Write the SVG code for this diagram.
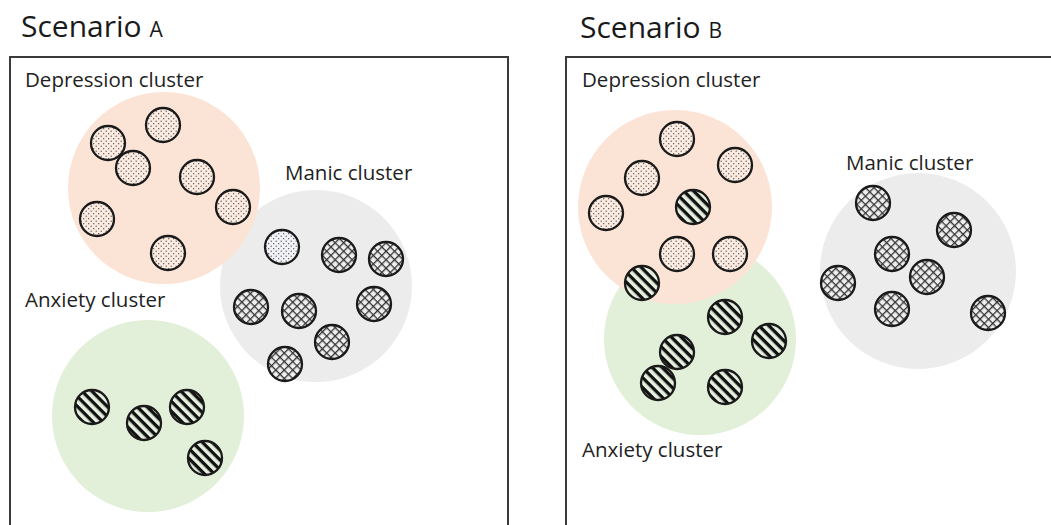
<svg xmlns="http://www.w3.org/2000/svg" width="1051" height="525" viewBox="0 0 1051 525">
<style>
.frame{fill:none;stroke:#3a3a3a;stroke-width:2}
.title{font-family:"Open Sans","Liberation Sans",sans-serif;font-size:30px;fill:#1a1a1a}
.tsub{font-size:21px}
.lbl{font-family:"Open Sans","Liberation Sans",sans-serif;font-size:20.5px;fill:#222}
.dep{fill:#fbe3d5}
.man{fill:#ececec}
.anx{fill:#e2efd9}
.s{stroke:#1a1a1a;stroke-width:2.3}
.dot{fill:url(#dots)}
.dotb{fill:url(#dotsBlue)}
.hatch{fill:url(#hatch)}
.stripe{fill:url(#stripes)}
</style>
<defs>
<pattern id="dots" patternUnits="userSpaceOnUse" width="5" height="5">
<rect width="5" height="5" fill="#fcebe0"/>
<circle cx="1.2" cy="1.2" r="0.65" fill="#444"/>
<circle cx="3.7" cy="3.7" r="0.65" fill="#444"/>
</pattern>
<pattern id="dotsBlue" patternUnits="userSpaceOnUse" width="5" height="5">
<rect width="5" height="5" fill="#f1f3f7"/>
<circle cx="1.2" cy="1.2" r="0.65" fill="#444"/>
<circle cx="3.7" cy="3.7" r="0.65" fill="#444"/>
</pattern>
<pattern id="hatch" patternUnits="userSpaceOnUse" width="6" height="6" patternTransform="rotate(45)">
<rect width="6" height="6" fill="#efefef"/>
<rect x="0" y="0" width="6" height="1.3" fill="#333"/>
<rect x="0" y="0" width="1.3" height="6" fill="#333"/>
</pattern>
<pattern id="stripes" patternUnits="userSpaceOnUse" width="7" height="7" patternTransform="rotate(45)">
<rect width="7" height="7" fill="#e6f0de"/>
<rect x="0" y="0" width="7" height="3.3" fill="#111"/>
</pattern>
</defs>
<rect width="1051" height="525" fill="#ffffff"/>

<g id="scenarioA">
<text class="title" x="21" y="37">Scenario <tspan class="tsub">A</tspan></text>
<rect class="frame" x="10" y="57" width="498" height="470"/>
</g>
<g id="scenarioB">
<text class="title" x="580" y="38">Scenario <tspan class="tsub">B</tspan></text>
<rect class="frame" x="566" y="57" width="490" height="470"/>
</g>

<!-- Scenario A clusters -->
<g id="A-manic-cluster">
<circle class="man" cx="316" cy="286" r="96"/>
<text class="lbl" x="285" y="180">Manic cluster</text>
</g>
<g id="A-depression-cluster">
<circle class="dep" cx="164" cy="188" r="96"/>
<text class="lbl" x="25" y="87">Depression cluster</text>
</g>
<g id="A-anxiety-cluster">
<circle class="anx" cx="148" cy="416" r="96"/>
<text class="lbl" x="25" y="307">Anxiety cluster</text>
</g>

<!-- Scenario B clusters -->
<g id="B-manic-cluster">
<circle class="man" cx="918" cy="271" r="98"/>
<text class="lbl" x="846" y="170">Manic cluster</text>
</g>
<g id="B-anxiety-cluster">
<circle class="anx" cx="700" cy="339" r="96"/>
<text class="lbl" x="582" y="457">Anxiety cluster</text>
</g>
<g id="B-depression-cluster">
<circle class="dep" cx="675" cy="207" r="97"/>
<text class="lbl" x="582" y="87">Depression cluster</text>
</g>

<!-- Scenario A symptoms -->
<g id="A-dep-symptoms">
<circle class="s dot" cx="163" cy="125" r="17"/>
<circle class="s dot" cx="108" cy="143" r="17"/>
<circle class="s dot" cx="133" cy="168" r="17"/>
<circle class="s dot" cx="197" cy="177" r="17"/>
<circle class="s dot" cx="233" cy="207" r="17"/>
<circle class="s dot" cx="97" cy="219" r="17"/>
<circle class="s dot" cx="168" cy="253" r="17"/>
</g>
<g id="A-manic-symptoms">
<circle class="s dotb" cx="282" cy="247" r="17"/>
<circle class="s hatch" cx="339" cy="255" r="17"/>
<circle class="s hatch" cx="386" cy="259" r="17"/>
<circle class="s hatch" cx="251" cy="307" r="17"/>
<circle class="s hatch" cx="299" cy="311" r="17"/>
<circle class="s hatch" cx="374" cy="304" r="17"/>
<circle class="s hatch" cx="332" cy="342" r="17"/>
<circle class="s hatch" cx="285" cy="364" r="17"/>
</g>
<g id="A-anx-symptoms">
<circle class="s stripe" cx="92" cy="407" r="17"/>
<circle class="s stripe" cx="144" cy="423" r="17"/>
<circle class="s stripe" cx="187" cy="407" r="17"/>
<circle class="s stripe" cx="205" cy="458" r="17"/>
</g>

<!-- Scenario B symptoms -->
<g id="B-dep-symptoms">
<circle class="s dot" cx="677" cy="139" r="17"/>
<circle class="s dot" cx="735" cy="165" r="17"/>
<circle class="s dot" cx="642" cy="178" r="17"/>
<circle class="s dot" cx="606" cy="213" r="17"/>
<circle class="s stripe" cx="693" cy="207" r="17"/>
<circle class="s dot" cx="677" cy="254" r="17"/>
<circle class="s dot" cx="730" cy="254" r="17"/>
<circle class="s stripe" cx="642" cy="283" r="17"/>
</g>
<g id="B-anx-symptoms">
<circle class="s stripe" cx="725" cy="317" r="17"/>
<circle class="s stripe" cx="769" cy="341" r="17"/>
<circle class="s stripe" cx="677" cy="352" r="17"/>
<circle class="s stripe" cx="658" cy="383" r="17"/>
<circle class="s stripe" cx="725" cy="387" r="17"/>
</g>
<g id="B-manic-symptoms">
<circle class="s hatch" cx="873" cy="203" r="17"/>
<circle class="s hatch" cx="954" cy="230" r="17"/>
<circle class="s hatch" cx="892" cy="254" r="17"/>
<circle class="s hatch" cx="927" cy="277" r="17"/>
<circle class="s hatch" cx="838" cy="283" r="17"/>
<circle class="s hatch" cx="892" cy="309" r="17"/>
<circle class="s hatch" cx="988" cy="313" r="17"/>
</g>
<g id="connectors"/>
</svg>
